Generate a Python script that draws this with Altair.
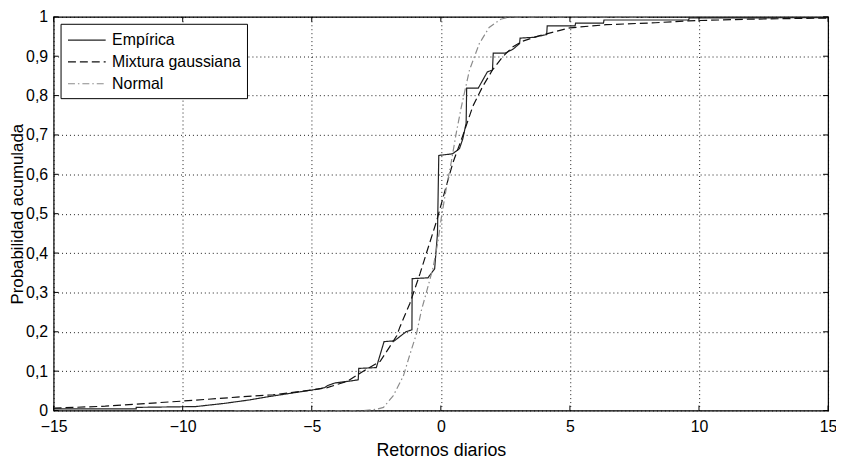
import altair as alt
import pandas as pd

series_names = ["Empírica", "Mixtura gaussiana", "Normal"]

emp_x = [-15, -11.8, -11.8, -9.5, -8.4, -7.4, -6.6, -5.5, -5.0, -4.5, -4.4, -4.1, -3.5, -3.2, -3.18,
         -2.5, -2.2, -1.8, -1.35, -1.12, -1.11, -0.5, -0.24, -0.13, -0.08, 0.45, 0.72, 0.85, 0.98,
         1.0, 1.45, 1.8, 2.0, 2.03, 2.5, 2.8, 3.05, 3.07, 3.6, 4.1, 4.12, 5.2, 5.22, 6.3, 6.32,
         9.6, 9.62, 15]
emp_y = [0.004, 0.004, 0.008, 0.010, 0.018, 0.027, 0.036, 0.047, 0.052, 0.058, 0.063, 0.070, 0.075, 0.078, 0.107,
         0.109, 0.175, 0.177, 0.200, 0.205, 0.335, 0.337, 0.360, 0.450, 0.648, 0.652, 0.665, 0.690, 0.730,
         0.819, 0.819, 0.860, 0.865, 0.908, 0.908, 0.918, 0.932, 0.946, 0.948, 0.955, 0.977, 0.977, 0.984, 0.984, 0.992,
         0.992, 0.997, 0.998]

mix_x = [-15, -13, -10, -7.9, -6.5, -5, -4.4, -3.6, -3.1, -2.35, -1.97, -1.71, -1.58, -1.2, -0.81,
         -0.49, -0.17, 0.15, 0.47, 0.85, 1.24, 1.62, 2.0, 2.39, 2.77, 3.16, 3.8, 4.4, 5.0, 6.4,
         8.3, 9.6, 11.9, 15]
mix_y = [0.006, 0.011, 0.024, 0.034, 0.040, 0.052, 0.058, 0.075, 0.096, 0.125, 0.163, 0.190, 0.213, 0.272, 0.347,
         0.414, 0.480, 0.556, 0.630, 0.698, 0.773, 0.823, 0.865, 0.898, 0.923, 0.938, 0.952, 0.962, 0.972, 0.980,
         0.985, 0.990, 0.994, 0.997]

norm_x = [-8, -3.0, -2.5, -2.22, -1.84, -1.45, -1.2, -0.94, -0.75, -0.56, -0.3, -0.11, 0.02, 0.21,
          0.4, 0.6, 0.79, 1.11, 1.49, 1.87, 2.32, 2.7, 8]
norm_y = [0.0, 0.0, 0.003, 0.008, 0.038, 0.088, 0.142, 0.196, 0.255, 0.300, 0.363, 0.430, 0.490, 0.564,
          0.630, 0.706, 0.770, 0.865, 0.932, 0.973, 0.994, 1.0, 1.0]

x_ticks = [-15, -10, -5, 0, 5, 10, 15]
y_ticks = [0, 0.1, 0.2, 0.3, 0.4, 0.5, 0.6, 0.7, 0.8, 0.9, 1]

rows = []
for name, xs, ys in zip(series_names, [emp_x, mix_x, norm_x], [emp_y, mix_y, norm_y]):
    for i, (a, b) in enumerate(zip(xs, ys)):
        rows.append({"serie": name, "x": a, "p": b, "orden": i})
df = pd.DataFrame(rows)

W, H = 781, 397
FONT = "Liberation Sans"

xscale = alt.Scale(domain=[-15, 15], nice=False, zero=False)
yscale = alt.Scale(domain=[0, 1], nice=False, zero=False)

xaxis = alt.Axis(values=x_ticks, title="Retornos diarios", grid=True,
                 gridDash=[1, 3], gridColor="black", gridOpacity=0.9,
                 ticks=False, domain=False, labelFlush=False, labelOverlap=False,
                 labelPadding=8, labelFontSize=16, labelColor="black",
                 titleFontSize=18, titleFontWeight="normal", titleColor="black",
                 titlePadding=7)
yaxis = alt.Axis(values=y_ticks, title="Probabilidad acumulada", grid=True,
                 gridDash=[1, 3], gridColor="black", gridOpacity=0.9,
                 ticks=False, domain=False, labelFlush=False, labelOverlap=False,
                 labelPadding=6, labelFontSize=16, labelColor="black",
                 labelExpr="datum.value == 0 ? '0' : datum.value == 1 ? '1' : replace(format(datum.value, '.1f'), '.', ',')",
                 titleFontSize=17, titleFontWeight="normal", titleColor="black",
                 titleX=-31, titleBaseline="alphabetic")

legend = alt.Legend(title=None, orient="none", legendX=7, legendY=7,
                    fillColor="white", strokeColor="black", padding=6,
                    symbolType="M-2,0H2", symbolSize=361, symbolStrokeWidth=1.2,
                    symbolOffset=10, labelOffset=15,
                    labelFontSize=16, labelFont=FONT, labelColor="black",
                    rowPadding=3)

lines = alt.Chart(df).mark_line(strokeWidth=1.2, clip=True).encode(
    x=alt.X("x:Q", scale=xscale, axis=xaxis),
    y=alt.Y("p:Q", scale=yscale, axis=yaxis),
    color=alt.Color("serie:N", scale=alt.Scale(domain=series_names, range=["#222222", "#111111", "#8c8c8c"]),
                    legend=legend),
    strokeDash=alt.StrokeDash("serie:N", scale=alt.Scale(domain=series_names, range=[[1, 0], [8, 4], [7, 3, 1.5, 3]]),
                              legend=legend),
    order="orden:Q",
)

xt = pd.DataFrame({"t": x_ticks})
yt = pd.DataFrame({"t": y_ticks})
TL = 5
xb = alt.Chart(xt).mark_rule(color="black", strokeWidth=1).encode(
    x=alt.X("t:Q", scale=xscale, axis=xaxis), y=alt.value(H), y2=alt.value(H - TL))
xtop = alt.Chart(xt).mark_rule(color="black", strokeWidth=1).encode(
    x=alt.X("t:Q", scale=xscale, axis=xaxis), y=alt.value(0), y2=alt.value(TL))
yl = alt.Chart(yt).mark_rule(color="black", strokeWidth=1).encode(
    y=alt.Y("t:Q", scale=yscale, axis=yaxis), x=alt.value(0), x2=alt.value(TL))
yr = alt.Chart(yt).mark_rule(color="black", strokeWidth=1).encode(
    y=alt.Y("t:Q", scale=yscale, axis=yaxis), x=alt.value(W), x2=alt.value(W - TL))

chart = alt.layer(lines, xb, xtop, yl, yr).properties(
    width=W, height=H,
    autosize=alt.AutoSizeParams(type="none"),
    padding={"left": 46, "top": 7, "right": 8, "bottom": 50},
).configure(font=FONT).configure_view(stroke="black", strokeWidth=1.2)

chart.save("out.html", embed_options={"renderer": "svg", "actions": False})
